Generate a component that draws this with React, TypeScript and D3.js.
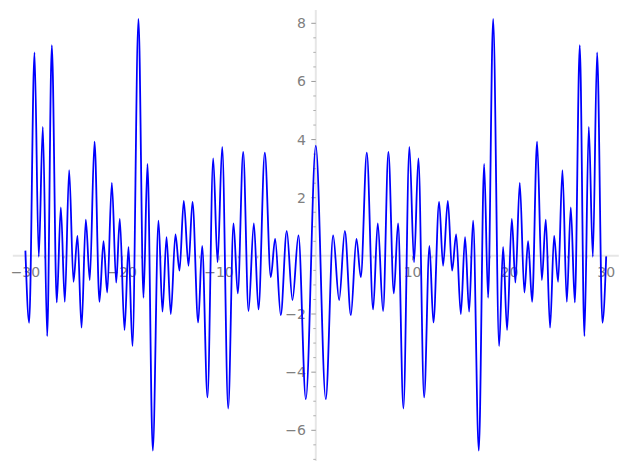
import React from "react";
import * as d3 from "d3";

// Local extrema of the plotted curve (x, y)
const CURVE_X = [
  -30, -29.61, -29.06, -28.62, -28.2, -27.75, -27.27, -26.76, -26.34, -25.93, -25.48,
  -25.03, -24.62, -24.2, -23.76, -23.35, -22.86, -22.35, -21.93, -21.55, -21.07,
  -20.62, -20.25, -19.76, -19.35, -18.94, -18.32, -17.8, -17.39, -16.84, -16.25,
  -15.84, -15.42, -14.98, -14.5, -14.08, -13.64, -13.15, -12.74, -12.15, -11.74,
  -11.19, -10.6, -10.15, -9.67, -9.05, -8.5, -8.06, -7.5, -6.95, -6.4,
  -5.92, -5.27, -4.65, -4.2, -3.62, -3.0, -2.41, -1.79, -1.03,
  0,
  1.03, 1.79, 2.41, 3.0, 3.62, 4.2, 4.65, 5.27, 5.92, 6.4,
  6.95, 7.5, 8.06, 8.5, 9.05, 9.67, 10.15, 10.6, 11.19, 11.74,
  12.15, 12.74, 13.15, 13.64, 14.08, 14.5, 14.98, 15.42, 15.84, 16.25,
  16.84, 17.39, 17.8, 18.32, 18.94, 19.35, 19.76, 20.25, 20.62, 21.07,
  21.55, 21.93, 22.35, 22.86, 23.35, 23.76, 24.2, 24.62, 25.03, 25.48,
  25.93, 26.34, 26.76, 27.27, 27.75, 28.2, 28.62, 29.06, 29.61, 30,
];
const CURVE_Y = [
  0.18, -2.3, 7.0, -0.03, 4.44, -2.76, 7.25, -1.6, 1.67, -1.58, 2.95,
  -0.89, 0.69, -2.47, 1.25, -0.83, 3.93, -1.58, 0.51, -1.26, 2.51,
  -0.92, 1.27, -2.55, 0.31, -3.1, 8.15, -1.44, 3.16, -6.7, 1.21,
  -1.92, 0.64, -2.0, 0.74, -0.51, 1.89, -0.34, 1.86, -2.29, 0.34,
  -4.87, 3.35, -0.22, 3.75, -5.25, 1.12, -1.29, 3.58, -1.9, 1.12,
  -1.84, 3.55, -0.73, 0.58, -2.04, 0.86, -1.52, 0.7, -4.93,
  3.79,
  -4.93, 0.7, -1.52, 0.86, -2.04, 0.58, -0.73, 3.55, -1.84, 1.12,
  -1.9, 3.58, -1.29, 1.12, -5.25, 3.75, -0.22, 3.35, -4.87, 0.34,
  -2.29, 1.86, -0.34, 1.89, -0.51, 0.74, -2.0, 0.64, -1.92, 1.21,
  -6.7, 3.16, -1.44, 8.15, -3.1, 0.31, -2.55, 1.27, -0.92, 2.51,
  -1.26, 0.51, -1.58, 3.93, -0.83, 1.25, -2.47, 0.69, -0.89, 2.95,
  -1.58, 1.67, -1.6, 7.25, -2.76, 4.44, -0.03, 7.0, -2.3, -0.02,
];

const X_MAJOR = [-30, -20, -10, 10, 20, 30];
const X_MINOR = [-28, -26, -24, -22, -18, -16, -14, -12, -8, -6, -4, -2, 2, 4, 6, 8, 12, 14, 16, 18, 22, 24, 26, 28];
const Y_MAJOR = [-6, -4, -2, 2, 4, 6, 8];
const Y_MINOR = [-7, -6.5, -5.5, -5, -4.5, -3.5, -3, -2.5, -1.5, -1, -0.5, 0, 0.5, 1, 1.5, 2.5, 3, 3.5, 4.5, 5, 5.5, 6.5, 7, 7.5];
const X_AXIS_EXTENT = [-31.3, 31.3];
const Y_AXIS_EXTENT = [-7.06, 8.46];

const W = 627;
const H = 470;

export default function App() {
  const x = d3.scaleLinear().domain([-30, 30]).range([25.4, 606.2]);
  const y = d3.scaleLinear().domain([-6, 8]).range([430.3, 23.3]);
  const pts: [number, number][] = CURVE_X.map((v, i) => [v, CURVE_Y[i]]);
  const line = d3
    .line<[number, number]>()
    .x((d) => x(d[0]))
    .y((d) => y(d[1]))
    .curve(d3.curveMonotoneX);

  const x0 = x(0);
  const y0 = y(0);
  const fmt = (v: number) => (v < 0 ? "\u2212" + Math.abs(v) : String(v));
  const labelColor = "#808080";
  const tickColor = "#9a9a9a";
  const font = "DejaVu Sans, sans-serif";

  return (
    <svg
      width={W}
      height={H}
      style={{ position: "absolute", left: 0, top: 0, background: "#fff" }}
    >
      {/* axis lines */}
      <line x1={x(X_AXIS_EXTENT[0])} x2={x(X_AXIS_EXTENT[1])} y1={y0} y2={y0} stroke="#e6e6e6" strokeWidth={2} />
      <line x1={x0} x2={x0} y1={y(Y_AXIS_EXTENT[1])} y2={y(Y_AXIS_EXTENT[0])} stroke="#e6e6e6" strokeWidth={2} />
      {/* x ticks */}
      {X_MAJOR.map((t) => (
        <line key={"xM" + t} x1={x(t)} x2={x(t)} y1={y0} y2={y0 + 4.5} stroke={tickColor} strokeWidth={1} />
      ))}
      {X_MINOR.map((t) => (
        <line key={"xm" + t} x1={x(t)} x2={x(t)} y1={y0} y2={y0 + 2.5} stroke={tickColor} strokeWidth={0.8} />
      ))}
      {/* y ticks */}
      {Y_MAJOR.map((t) => (
        <line key={"yM" + t} x1={x0 - 4.5} x2={x0} y1={y(t)} y2={y(t)} stroke={tickColor} strokeWidth={1} />
      ))}
      {Y_MINOR.map((t) => (
        <line key={"ym" + t} x1={x0 - (t === 0 ? 4.5 : 2.5)} x2={x0} y1={y(t)} y2={y(t)} stroke={tickColor} strokeWidth={0.8} />
      ))}
      {/* labels */}
      {X_MAJOR.map((t) => (
        <text key={"xl" + t} x={x(t)} y={y0 + 21} textAnchor="middle" fontFamily={font} fontSize={14} fill={labelColor}>
          {fmt(t)}
        </text>
      ))}
      {Y_MAJOR.map((t) => (
        <text key={"yl" + t} x={x0 - 10} y={y(t)} dy="0.36em" textAnchor="end" fontFamily={font} fontSize={14} fill={labelColor}>
          {fmt(t)}
        </text>
      ))}
      {/* curve */}
      <path d={line(pts) ?? ""} fill="none" stroke="#0000ff" strokeWidth={1.8} />
    </svg>
  );
}
